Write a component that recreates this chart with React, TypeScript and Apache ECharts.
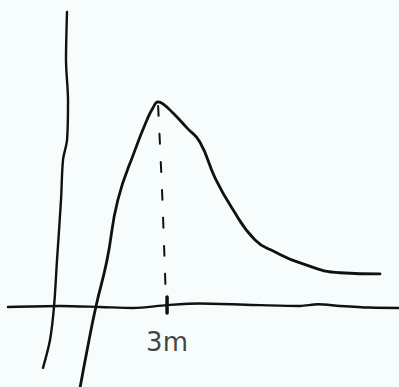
import React, { useEffect, useRef } from "react";
import * as echarts from "echarts";

// Hand-sketched response curve: rises through zero, peaks at x = 3 (m), then decays.
// Coordinates are in chart units: x in metres, y normalised so the peak is 1.
const curveX = [0.7, 0.91, 1.12, 1.42, 1.71, 2.17, 2.49, 2.65, 2.79, 2.92, 3.19, 3.57, 3.91, 4.32, 4.77, 5.39, 5.93, 6.6, 7.67, 8.74];
const curveY = [-0.4, -0.196, -0.007, 0.223, 0.518, 0.763, 0.911, 0.97, 1.0, 0.99, 0.945, 0.871, 0.803, 0.626, 0.479, 0.322, 0.263, 0.209, 0.161, 0.155];

// Wobbly hand-drawn axes
const vAxisX = [0.347, 0.32, 0.374, 0.347, 0.239, 0.186, 0.079, -0.002, -0.109, -0.297];
const vAxisY = [1.441, 1.205, 1.009, 0.812, 0.714, 0.518, 0.223, -0.007, -0.169, -0.306];
const hAxisX = [-1.235, 0.159, 1.232, 2.117, 3.029, 3.913, 5.522, 6.595, 7.077, 7.667, 8.472, 9.25];
const hAxisY = [-0.007, -0.002, -0.007, -0.012, 0.002, 0.01, 0.002, -0.002, 0.006, -0.002, -0.01, -0.012];

// Dashed drop line from the peak to the marked position
const dropX = [2.79, 2.895, 3.0];
const dropY = [0.98, 0.566, 0.027];

// Tick on the horizontal axis and its label
const tickValue = 3;
const tickUnit = "m";
const tickX = [3.03, 3.03];
const tickY = [0.042, -0.037];
const labelY = -0.18;

const zip = (xs: number[], ys: number[]) => xs.map((x, i) => [x, ys[i]]);

const ink = "#111111";

export default function App() {
  const ref = useRef<HTMLDivElement>(null);

  useEffect(() => {
    if (!ref.current) return;
    const chart = echarts.init(ref.current, undefined, { renderer: "svg" });
    const pen = (w: number) => ({ color: ink, width: w, cap: "round" as const, join: "round" as const });
    chart.setOption({
      animation: false,
      backgroundColor: "#f7fcfc",
      grid: { left: 0, right: 0, top: 0, bottom: 0 },
      xAxis: { type: "value", min: -1.45, max: 9.25, show: false },
      yAxis: { type: "value", min: -0.4, max: 1.5, show: false },
      series: [
        {
          type: "line",
          data: zip(vAxisX, vAxisY),
          smooth: 0.3,
          symbol: "none",
          lineStyle: pen(2.4),
        },
        {
          type: "line",
          data: zip(hAxisX, hAxisY),
          smooth: 0.3,
          symbol: "none",
          lineStyle: pen(2.4),
        },
        {
          type: "line",
          data: zip(curveX, curveY),
          smooth: 0.5,
          symbol: "none",
          lineStyle: pen(2.8),
        },
        {
          type: "line",
          data: zip(dropX, dropY),
          smooth: 0.3,
          symbol: "none",
          lineStyle: { ...pen(2), type: [10, 18] },
        },
        {
          type: "line",
          data: zip(tickX, tickY),
          symbol: "none",
          lineStyle: pen(3.5),
        },
        {
          type: "scatter",
          data: [[tickValue + 0.03, labelY]],
          symbolSize: 0,
          label: {
            show: true,
            position: "inside",
            formatter: `${tickValue}${tickUnit}`,
            color: ink,
            fontFamily: "DejaVu Sans",
            fontSize: 26,
          },
        },
      ],
    });
    return () => chart.dispose();
  }, []);

  return (
    <div
      ref={ref}
      style={{ position: "absolute", left: 0, top: 0, width: 399, height: 387 }}
    />
  );
}
